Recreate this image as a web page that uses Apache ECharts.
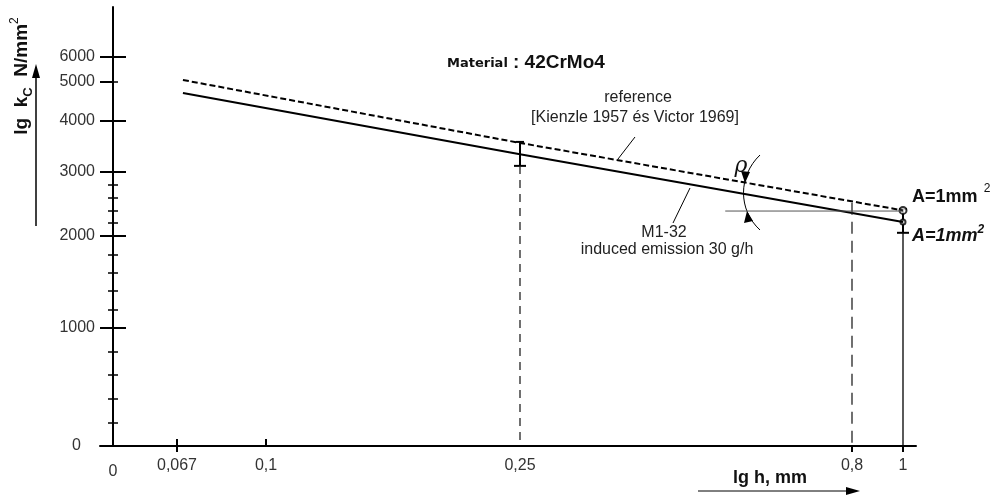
<!DOCTYPE html>
<html>
<head>
<meta charset="utf-8">
<script src="https://cdn.jsdelivr.net/npm/echarts@6/dist/echarts.min.js"></script>
<style>
  html, body { margin: 0; padding: 0; background: #fff; }
  #echarts { width: 996px; height: 497px; }
</style>
</head>
<body>
<div id="echarts"></div>
<script>
// 数据: h (mm) 与 kc (N/mm2)
var H_POINTS = [0.0692, 0.25, 1];
// M1-32, induced emission 30 g/h
var KC_M132 = [4720, 3350, 2220];
// reference [Kienzle 1957 és Victor 1969]
var KC_REF = [5080, 3570, 2400];

// error bars
var ERR_H = [0.25, 1];
var ERR_LOW = [3120, 2050];
var ERR_HIGH = [3590, 2420];

// guide lines
var DROP_H = [0.25, 0.8];
var DROP_TOP = [3120, 2520];
var BASE_H = [0.59, 1];
var BASE_KC = 2390;

// tick labels
var X_TICKS = [0, 0.067, 0.1, 0.25, 0.8, 1];
var X_LABELS = ['0', '0,067', '0,1', '0,25', '0,8', '1'];
var Y_TICKS = [0, 1000, 2000, 3000, 4000, 5000, 6000];
var Y_LABELS = ['0', '1000', '2000', '3000', '4000', '5000', '6000'];
var Y_MINOR = [200, 400, 600, 800, 1200, 1400, 1600, 1800, 2200, 2400, 2600, 2800];

// the drawing uses hand made scales: where each tick sits along its axis
var X_SCALE = [0, 64, 153, 407, 739, 790];
var Y_SCALE = [0, 118, 210, 274, 325, 364, 389];

function place(v, ticks, scale) {
  var i = 1;
  while (i < ticks.length - 1 && v > ticks[i]) i++;
  var t = (v - ticks[i - 1]) / (ticks[i] - ticks[i - 1]);
  return scale[i - 1] + t * (scale[i] - scale[i - 1]);
}
function xp(h) { return place(h, X_TICKS, X_SCALE); }
function yp(k) { return place(k, Y_TICKS, Y_SCALE); }
function labelOf(v, scale, labels) {
  for (var i = 0; i < scale.length; i++) {
    if (Math.abs(scale[i] - v) < 0.5) return labels[i];
  }
  return '';
}

var FONT = 'Liberation Sans';
var chartDom = document.getElementById('echarts');
var myChart = echarts.init(chartDom);
var option;

var tickLine = { color: '#000', width: 2 };
var minorLine = { color: '#000', width: 1.5 };

function overlayY(values, inside, len, style) {
  return {
    type: 'value', min: 0, max: 439, position: 'left',
    axisLine: { show: false, onZero: true, onZeroAxisIndex: 0 },
    axisTick: { show: true, inside: inside, length: len, customValues: values, lineStyle: style },
    axisLabel: { show: false },
    splitLine: { show: false }
  };
}

option = {
  animation: false,
  grid: { left: 100, right: 80, top: 7, bottom: 51, outerBoundsMode: 'none' },
  xAxis: [
    {
      type: 'value', min: -13, max: 803,
      axisLine: { onZero: false, lineStyle: { color: '#000', width: 2 } },
      axisTick: { show: true, inside: false, length: 6, customValues: [0.067, 0.8, 1].map(xp), lineStyle: tickLine },
      axisLabel: {
        customValues: X_TICKS.map(xp),
        margin: 12,
        color: '#333',
        fontSize: 16,
        fontFamily: FONT,
        formatter: function (v) {
          var s = labelOf(v, X_SCALE, X_LABELS);
          return s === '0' ? '{z|0}' : s;
        },
        rich: { z: { fontSize: 16, fontFamily: FONT, color: '#333', padding: [6, 0, 0, 0] } }
      },
      splitLine: { show: false }
    },
    {
      type: 'value', min: -13, max: 803, position: 'bottom',
      axisLine: { show: false, onZero: false },
      axisTick: { show: true, inside: true, length: 7, customValues: [0.067, 0.1].map(xp), lineStyle: tickLine },
      axisLabel: { show: false },
      splitLine: { show: false }
    }
  ],
  yAxis: [
    {
      type: 'value', min: 0, max: 439, position: 'left',
      axisLine: { show: true, onZero: true, onZeroAxisIndex: 0, lineStyle: { color: '#000', width: 2 } },
      axisTick: { show: true, inside: false, length: 13, customValues: [1000, 2000, 3000, 4000, 5000, 6000].map(yp), lineStyle: tickLine },
      axisLabel: {
        customValues: Y_TICKS.map(yp),
        margin: 5,
        color: '#333',
        fontSize: 16,
        fontFamily: FONT,
        formatter: function (v) {
          var s = labelOf(v, Y_SCALE, Y_LABELS);
          return s === '0' ? '{z|0}' : s;
        },
        rich: { z: { fontSize: 16, fontFamily: FONT, color: '#333', padding: [0, 14, 0, 0] } }
      },
      splitLine: { show: false }
    },
    overlayY([1000, 2000, 3000, 4000, 6000].map(yp), true, 13, tickLine),
    overlayY(Y_MINOR.map(yp), false, 5, minorLine),
    overlayY(Y_MINOR.concat([5000]).map(yp), true, 5, minorLine)
  ],
  series: [
    {
      name: 'reference',
      type: 'line',
      symbol: 'none',
      data: H_POINTS.map(function (h, i) { return [xp(h), yp(KC_REF[i])]; }),
      lineStyle: { color: '#000', width: 2, type: [6, 3] }
    },
    {
      name: 'M1-32',
      type: 'line',
      symbol: 'none',
      data: H_POINTS.map(function (h, i) { return [xp(h), yp(KC_M132[i])]; }),
      lineStyle: { color: '#000', width: 2 }
    },
    {
      type: 'line', symbol: 'none',
      data: [[xp(DROP_H[0]), yp(DROP_TOP[0])], [xp(DROP_H[0]), yp(0)]],
      lineStyle: { color: '#222', width: 1.3, type: [8, 6] }
    },
    {
      type: 'line', symbol: 'none',
      data: [[xp(DROP_H[1]), yp(DROP_TOP[1])], [xp(DROP_H[1]), yp(0)]],
      lineStyle: { color: '#222', width: 1.3, type: [12, 7] }
    },
    {
      type: 'line', symbol: 'none',
      data: [[xp(1), yp(ERR_LOW[1])], [xp(1), yp(0)]],
      lineStyle: { color: '#000', width: 1.3 }
    },
    {
      type: 'line', symbol: 'none',
      data: [[xp(BASE_H[0]), yp(BASE_KC)], [xp(BASE_H[1]), yp(BASE_KC)]],
      lineStyle: { color: '#555', width: 1 }
    },
    {
      type: 'custom',
      data: ERR_H.map(function (h, i) { return [xp(h), yp(ERR_LOW[i]), yp(ERR_HIGH[i])]; }),
      encode: { x: 0, y: [1, 2] },
      renderItem: function (params, api) {
        var lo = api.coord([api.value(0), api.value(1)]);
        var hi = api.coord([api.value(0), api.value(2)]);
        var st = { stroke: '#000', lineWidth: 2 };
        return {
          type: 'group',
          children: [
            { type: 'line', shape: { x1: lo[0], y1: lo[1], x2: hi[0], y2: hi[1] }, style: st },
            { type: 'line', shape: { x1: lo[0] - 6, y1: lo[1], x2: lo[0] + 6, y2: lo[1] }, style: st },
            { type: 'line', shape: { x1: hi[0] - 4, y1: hi[1], x2: hi[0] + 4, y2: hi[1] }, style: st }
          ]
        };
      }
    },
    {
      type: 'scatter',
      symbol: 'emptyCircle',
      symbolSize: 7,
      data: [[xp(1), yp(KC_REF[2])]],
      itemStyle: { color: '#000', borderWidth: 1 }
    },
    {
      type: 'scatter',
      symbol: 'emptyCircle',
      symbolSize: 5,
      data: [[xp(1), yp(KC_M132[2])]],
      itemStyle: { color: '#000', borderWidth: 1 }
    }
  ],
  graphic: [
    // y axis name and arrow
    {
      type: 'text', x: 22, y: 76, rotation: Math.PI / 2,
      style: {
        text: '{a|lg  k}{s|C}{a|  N/mm}{p|2}',
        textAlign: 'center', textVerticalAlign: 'middle',
        rich: {
          a: { fontSize: 19, fontWeight: 'bold', fontFamily: FONT, fill: '#111', lineHeight: 26 },
          s: { fontSize: 13, fontWeight: 'bold', fontFamily: FONT, fill: '#111', verticalAlign: 'bottom', lineHeight: 26 },
          p: { fontSize: 12, fontFamily: FONT, fill: '#111', verticalAlign: 'top', lineHeight: 26 }
        }
      }
    },
    { type: 'line', shape: { x1: 36, y1: 226, x2: 36, y2: 76 }, style: { stroke: '#000', lineWidth: 1.5 } },
    { type: 'polygon', shape: { points: [[36, 64], [32, 78], [40, 78]] }, style: { fill: '#000' } },
    // x axis name and arrow
    {
      type: 'text', x: 770, y: 478,
      style: { text: 'lg h, mm', font: 'bold 18px ' + FONT, fill: '#111', textAlign: 'center', textVerticalAlign: 'middle' }
    },
    { type: 'line', shape: { x1: 698, y1: 491, x2: 848, y2: 491 }, style: { stroke: '#000', lineWidth: 1 } },
    { type: 'polygon', shape: { points: [[860, 491], [846, 487], [846, 495]] }, style: { fill: '#000' } },
    // title
    {
      type: 'text', x: 447, y: 64,
      style: { text: 'Material', font: 'bold 13px "DejaVu Sans"', fill: '#111', textAlign: 'left', textVerticalAlign: 'middle' }
    },
    {
      type: 'text', x: 513, y: 63,
      style: { text: ': 42CrMo4', font: 'bold 19px ' + FONT, fill: '#111', textAlign: 'left', textVerticalAlign: 'middle' }
    },
    // reference label
    {
      type: 'text', x: 638, y: 98,
      style: { text: 'reference', font: '16px ' + FONT, fill: '#222', textAlign: 'center', textVerticalAlign: 'middle' }
    },
    {
      type: 'text', x: 635, y: 118,
      style: { text: '[Kienzle 1957 és Victor 1969]', font: '16px ' + FONT, fill: '#222', textAlign: 'center', textVerticalAlign: 'middle' }
    },
    { type: 'line', shape: { x1: 635, y1: 137, x2: 618, y2: 159 }, style: { stroke: '#000', lineWidth: 1 } },
    // M1-32 label
    {
      type: 'text', x: 664, y: 233,
      style: { text: 'M1-32', font: '16px ' + FONT, fill: '#222', textAlign: 'center', textVerticalAlign: 'middle' }
    },
    {
      type: 'text', x: 667, y: 250,
      style: { text: 'induced emission 30 g/h', font: '16px ' + FONT, fill: '#222', textAlign: 'center', textVerticalAlign: 'middle' }
    },
    { type: 'line', shape: { x1: 690, y1: 188, x2: 673, y2: 223 }, style: { stroke: '#000', lineWidth: 1 } },
    // A = 1 mm2 labels
    {
      type: 'text', x: 912, y: 197,
      style: { text: 'A=1mm', font: 'bold 18px ' + FONT, fill: '#111', textAlign: 'left', textVerticalAlign: 'middle' }
    },
    {
      type: 'text', x: 987, y: 189,
      style: { text: '2', font: '12px ' + FONT, fill: '#111', textAlign: 'center', textVerticalAlign: 'middle' }
    },
    {
      type: 'text', x: 912, y: 236,
      style: {
        text: '{a|A=1mm}{p|2}', textAlign: 'left', textVerticalAlign: 'middle',
        rich: {
          a: { fontSize: 18, fontWeight: 'bold', fontStyle: 'italic', fontFamily: FONT, fill: '#111', lineHeight: 24 },
          p: { fontSize: 12, fontWeight: 'bold', fontStyle: 'italic', fontFamily: FONT, fill: '#111', verticalAlign: 'top', lineHeight: 24 }
        }
      }
    },
    // angle rho
    {
      type: 'text', x: 741, y: 166,
      style: { text: 'ρ', font: 'italic 22px "DejaVu Serif"', fill: '#111', textAlign: 'center', textVerticalAlign: 'middle' }
    },
    {
      type: 'bezierCurve',
      shape: { x1: 760, y1: 155, cpx1: 738, cpy1: 176, cpx2: 738, cpy2: 210, x2: 760, y2: 230 },
      style: { stroke: '#000', lineWidth: 1, fill: null }
    },
    { type: 'polygon', shape: { points: [[745, 183], [741, 171], [750, 172]] }, style: { fill: '#000' } },
    { type: 'polygon', shape: { points: [[747, 211], [744, 223], [753, 221]] }, style: { fill: '#000' } }
  ]
};

option && myChart.setOption(option);
</script>
</body>
</html>
